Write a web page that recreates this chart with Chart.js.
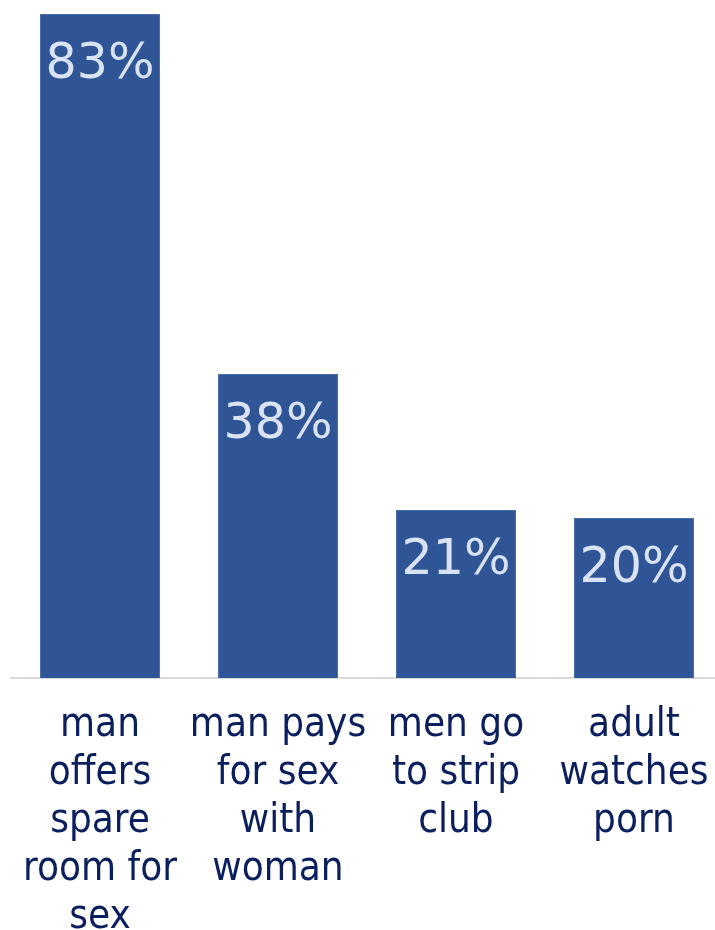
<!DOCTYPE html>
<html>
<head>
<meta charset="utf-8">
<script src="https://cdn.jsdelivr.net/npm/chart.js@4/dist/chart.umd.min.js"></script>
<style>
  html, body { margin: 0; padding: 0; background: #fff; overflow: hidden; }
  #wrap { width: 730px; height: 930px; }
</style>
</head>
<body>
<div id="wrap"><canvas id="barChart"></canvas></div>
<script>
// categories (pre-wrapped like the original)
const categories = [
    ['man', 'offers', 'spare', 'room for', 'sex'],
    ['man pays', 'for sex', 'with', 'woman'],
    ['men go', 'to strip', 'club'],
    ['adult', 'watches', 'porn']
];
const percentValues = [83, 38, 21, 20];

// value labels inside the top of each bar
const valueLabels = {
    id: 'valueLabels',
    afterDatasetsDraw(chart) {
        const ctx = chart.ctx;
        const meta = chart.getDatasetMeta(0);
        ctx.save();
        ctx.font = '49px "DejaVu Sans", sans-serif';
        ctx.fillStyle = '#dae3f3';
        ctx.textAlign = 'center';
        ctx.textBaseline = 'middle';
        meta.data.forEach(function(bar, i) {
            ctx.fillText(percentValues[i] + '%', bar.x, bar.y + 51);
        });
        ctx.restore();
    }
};

document.addEventListener('DOMContentLoaded', function() {
    new Chart(document.getElementById('barChart'), {
        type: 'bar',
        data: {
            labels: categories,
            datasets: [{
                data: percentValues,
                backgroundColor: '#2f5597',
                borderColor: '#4a6daa',
                borderWidth: 1,
                categoryPercentage: 1,
                barPercentage: 0.674
            }]
        },
        plugins: [valueLabels],
        options: {
            responsive: true,
            maintainAspectRatio: false,
            animation: false,
            layout: { padding: { left: 11, right: 7, top: 0, bottom: 0 } },
            plugins: {
                legend: { display: false },
                tooltip: { enabled: false }
            },
            scales: {
                x: {
                    grid: { display: false },
                    border: { display: true, color: '#d9d9d9', width: 2 },
                    ticks: {
                        color: '#0b1f5e',
                        font: { family: '"DejaVu Sans Condensed", "DejaVu Sans", sans-serif', size: 40, lineHeight: 1.2 },
                        padding: 16,
                        maxRotation: 0,
                        autoSkip: false
                    },
                    afterFit: function(scale) { scale.height = 252; }
                },
                y: {
                    display: false,
                    min: 0,
                    max: 84.75
                }
            }
        }
    });
});
</script>
</body>
</html>
